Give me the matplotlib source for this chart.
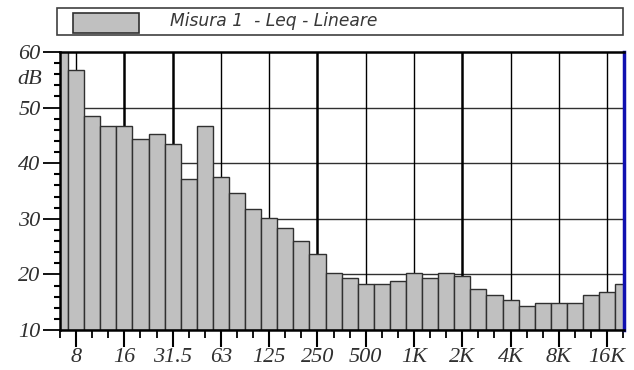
import matplotlib.pyplot as plt
from matplotlib.patches import Rectangle

# bande in terzi d'ottava
bande = ['6.3', '8', '10', '12.5', '16', '20', '25', '31.5', '40', '50',
         '63', '80', '100', '125', '160', '200', '250', '315', '400', '500',
         '630', '800', '1K', '1.25K', '1.6K', '2K', '2.5K', '3.15K', '4K', '5K',
         '6.3K', '8K', '10K', '12.5K', '16K', '20K']
leq = [61.0, 56.7, 48.5, 46.7, 46.7, 44.3, 45.2, 43.4, 37.1, 46.7,
       37.6, 34.7, 31.7, 30.2, 28.3, 26.0, 23.6, 20.2, 19.3, 18.3,
       18.3, 18.8, 20.2, 19.3, 20.2, 19.8, 17.4, 16.3, 15.4, 14.4,
       14.8, 14.8, 14.8, 16.3, 16.8, 18.3]
etichette = ['8', '16', '31.5', '63', '125', '250', '500', '1K', '2K', '4K', '8K', '16K']
y_ticks = [10, 20, 30, 40, 50, 60]

x = list(range(len(bande)))
x_ott = [bande.index(e) for e in etichette]

fig = plt.figure(figsize=(6.34, 3.70), dpi=100)
ax = fig.add_axes([60/634, 1-330/370, 564/634, 278/370])

# griglia
for v in [20, 30, 40, 50]:
    ax.axhline(v, color='#303030', lw=1.0, zorder=1)
for e, xi in zip(etichette, x_ott):
    spesso = e in ['16', '31.5', '250', '2K']
    ax.axvline(xi, color='black', lw=1.8 if spesso else 1.0, zorder=1)

ax.bar(x, [v - 10 for v in leq], bottom=10, width=1.0, color='#c0c0c0',
       edgecolor='#303030', linewidth=1.0, zorder=2)

ax.set_xlim(0.05, 35.05)
ax.set_ylim(10, 60)

ax.set_xticks(x_ott)
ax.set_xticklabels(etichette)
ax.set_xticks(x, minor=True)
ax.set_yticks(y_ticks)
ax.set_yticklabels(['10', '20', '30', '40', '50', '60'])
ax.set_yticks(list(range(10, 61, 2)), minor=True)
ax.tick_params(axis='x', which='major', length=12, width=1.5, labelsize=16, pad=1)
ax.tick_params(axis='x', which='minor', length=6, width=1.3)
ax.tick_params(axis='y', which='major', length=12, width=1.3, labelsize=16, pad=2)
ax.tick_params(axis='y', which='minor', length=4, width=1.5)
for t in ax.get_xticklabels() + ax.get_yticklabels():
    t.set_fontfamily('Liberation Serif')
    t.set_fontstyle('italic')
    t.set_color('#303030')

fig.text(30/634, 1-79/370, 'dB', family='Liberation Serif', style='italic',
         fontsize=16, color='#303030', ha='center', va='center')

for lato in ['top', 'left', 'bottom']:
    ax.spines[lato].set_linewidth(1.8)
    ax.spines[lato].set_color('black')
ax.spines['right'].set_linewidth(2.5)
ax.spines['right'].set_color('#1010b0')

# legenda
fig.patches.append(Rectangle((57/634, 1-35/370), 566/634, 27/370,
                             transform=fig.transFigure, fill=False,
                             edgecolor='#404040', lw=1.2))
fig.patches.append(Rectangle((73/634, 1-33/370), 66/634, 20/370,
                             transform=fig.transFigure, facecolor='#c0c0c0',
                             edgecolor='#303030', lw=1.2))
fig.text(170/634, 1-21/370, 'Misura 1  - Leq - Lineare', family='DejaVu Sans',
         style='oblique', fontsize=12.3, color='#383838',
         ha='left', va='center')

fig.savefig('out.png', dpi=100)
